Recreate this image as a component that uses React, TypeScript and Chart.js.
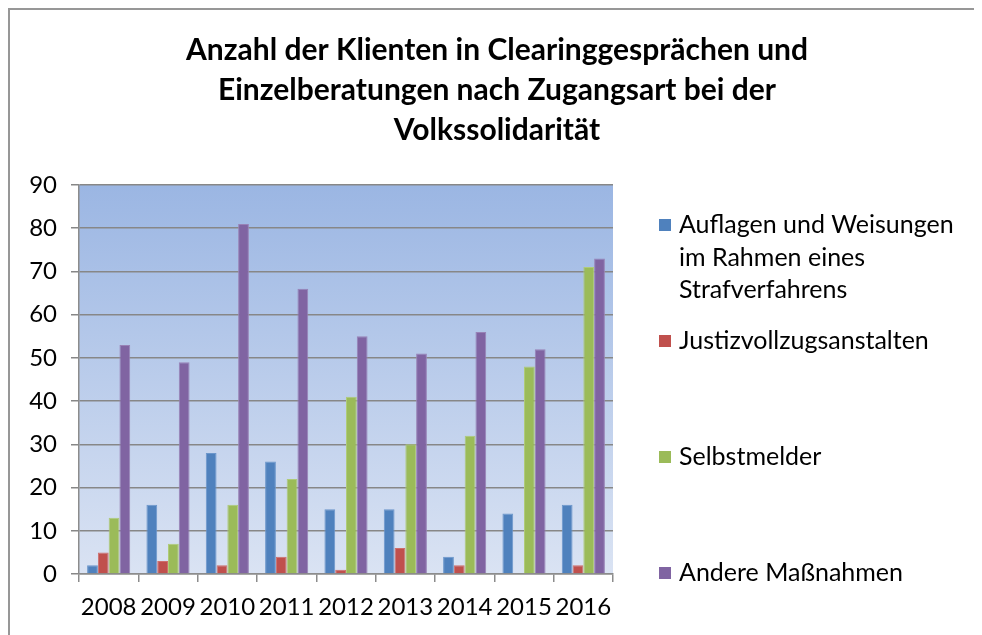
import React, { useEffect, useRef } from "react";
import { Chart, registerables } from "chart.js";

Chart.register(...registerables);

const years = ["2008", "2009", "2010", "2011", "2012", "2013", "2014", "2015", "2016"];
const auflagen = [2, 16, 28, 26, 15, 15, 4, 14, 16];
const justiz = [5, 3, 2, 4, 1, 6, 2, 0, 2];
const selbstmelder = [13, 7, 16, 22, 41, 30, 32, 48, 71];
const andere = [53, 49, 81, 66, 55, 51, 56, 52, 73];

const seriesLabels = [
  ["Auflagen und Weisungen", "im Rahmen eines", "Strafverfahrens"],
  ["Justizvollzugsanstalten"],
  ["Selbstmelder"],
  ["Andere Maßnahmen"],
];
const seriesColors = ["#4F81BD", "#C0504D", "#9BBB59", "#8064A2"];
const seriesBorders = ["#6B96CB", "#CE6E6B", "#AFCB78", "#9882B6"];

const titleLines = [
  "Anzahl der Klienten in Clearinggesprächen und",
  "Einzelberatungen nach Zugangsart bei der",
  "Volkssolidarität",
];

const yMin = 0;
const yMax = 90;
const yStep = 10;

const FONT = "Lato, 'Open Sans', sans-serif";

const bgPlugin = {
  id: "plotBg",
  beforeDraw(chart: any) {
    const { ctx, chartArea } = chart;
    const g = ctx.createLinearGradient(0, chartArea.top, 0, chartArea.bottom);
    g.addColorStop(0, "#9BB6E3");
    g.addColorStop(1, "#DAE3F3");
    ctx.save();
    ctx.fillStyle = g;
    ctx.fillRect(chartArea.left, chartArea.top, chartArea.right - chartArea.left, chartArea.bottom - chartArea.top);
    ctx.restore();
  },
};

const titlePlugin = {
  id: "customTitle",
  afterDraw(chart: any) {
    const { ctx } = chart;
    ctx.save();
    ctx.fillStyle = "#000";
    ctx.font = `bold 30px ${FONT}`;
    ctx.textAlign = "center";
    ctx.textBaseline = "middle";
    const cx = chart.width / 2 + 1;
    titleLines.forEach((t, i) => ctx.fillText(t, cx, 40 + i * 40));
    ctx.restore();
  },
};

const legendPlugin = {
  id: "customLegend",
  afterDraw(chart: any) {
    const { ctx, chartArea } = chart;
    const y0 = chartArea.top + 40;
    const y1 = chartArea.bottom - 1;
    const step = (y1 - y0) / (seriesLabels.length - 1);
    const sx = chartArea.right + 46;
    const tx = chartArea.right + 66;
    const lh = 32.5;
    ctx.save();
    ctx.font = `25px ${FONT}`;
    ctx.textBaseline = "middle";
    ctx.textAlign = "left";
    seriesLabels.forEach((lines, i) => {
      const y = y0 + i * step;
      ctx.fillStyle = seriesColors[i];
      ctx.fillRect(sx, y - 6, 12, 12);
      ctx.fillStyle = "#000";
      lines.forEach((l, j) => ctx.fillText(l, tx, y + j * lh));
    });
    ctx.restore();
  },
};

export default function App() {
  const ref = useRef<HTMLCanvasElement | null>(null);

  useEffect(() => {
    document.documentElement.style.overflow = "hidden";
    const canvas = ref.current;
    if (!canvas) return;
    const series = [auflagen, justiz, selbstmelder, andere];
    const chart = new Chart(canvas, {
      type: "bar",
      data: {
        labels: years,
        datasets: series.map((d, i) => ({
          label: seriesLabels[i].join(" "),
          data: d,
          backgroundColor: seriesColors[i],
          borderColor: seriesBorders[i],
          borderWidth: 1,
          categoryPercentage: 0.727,
          barPercentage: 1,
        })),
      },
      options: {
        animation: false,
        responsive: false,
        devicePixelRatio: 1,
        layout: { padding: { top: 175, right: 369, left: 0, bottom: 0 } },
        plugins: {
          legend: { display: false },
          title: { display: false },
          tooltip: { enabled: false },
        },
        scales: {
          x: {
            grid: {
              display: true,
              drawOnChartArea: false,
              drawTicks: true,
              tickLength: 8,
              color: "#8C8C8C",
              lineWidth: 1.5,
            },
            border: { display: true, color: "#8C8C8C", width: 1.5 },
            ticks: {
              color: "#000",
              font: { family: FONT, size: 24 },
              padding: 11,
              maxRotation: 0,
              autoSkip: false,
            },
            afterFit(scale: any) {
              scale.height = 61;
            },
          },
          y: {
            min: yMin,
            max: yMax,
            grid: {
              color: "#878787",
              lineWidth: 1.5,
              tickLength: 8,
            },
            border: { display: true, color: "#8C8C8C", width: 1.5 },
            ticks: {
              stepSize: yStep,
              color: "#000",
              font: { family: FONT, size: 24 },
              padding: 14,
            },
            afterFit(scale: any) {
              scale.width = 69;
            },
          },
        },
      },
      plugins: [bgPlugin, titlePlugin, legendPlugin],
    });
    return () => chart.destroy();
  }, []);

  return (
    <div
      style={{
        width: 972,
        height: 625,
        borderTop: "2px solid #979797",
        borderLeft: "2px solid #979797",
      }}
    >
      <canvas ref={ref} width={972} height={625} style={{ display: "block", width: 972, height: 625 }} />
    </div>
  );
}
